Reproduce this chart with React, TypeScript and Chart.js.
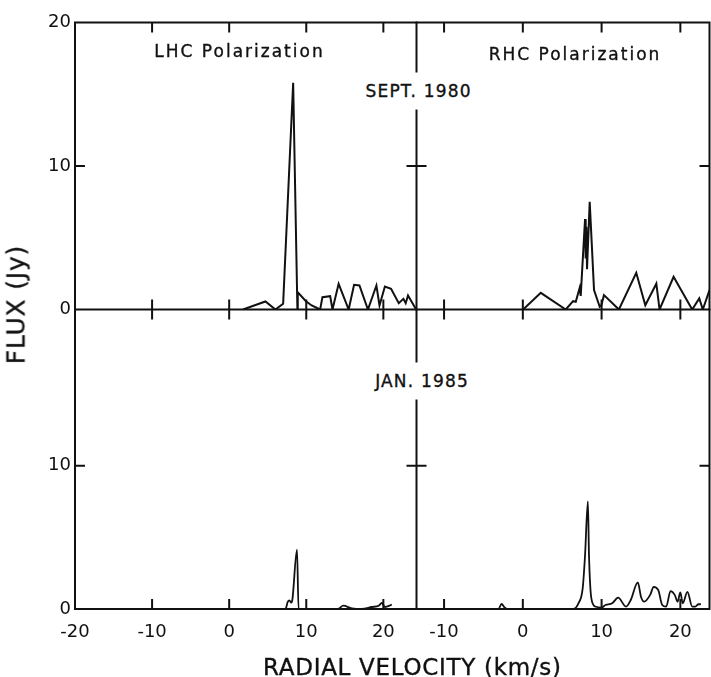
import React, { useEffect, useRef } from "react";
import { Chart, registerables } from "chart.js";

Chart.register(...registerables);

// ---------------- data ----------------
// Sept. 1980, LHC polarization
const sept1980LhcVelocity = [1.8, 4.7, 6.0, 7.0, 8.3, 8.85, 8.9, 9.96, 10.7, 11.8, 12.1, 13.1, 13.4, 14.2, 15.5, 16.2, 16.9, 18.0, 19.1, 19.5, 20.2, 21.0, 22.0, 22.6, 22.9, 23.2, 24.2];
const sept1980LhcFlux = [0, 0.56, 0, 0.4, 15.8, 0, 1.2, 0.58, 0.28, 0, 0.86, 0.93, 0, 1.79, 0, 1.72, 1.67, 0, 1.67, 0.28, 1.6, 1.44, 0.44, 0.74, 0.44, 0.98, 0.05];

// Sept. 1980, RHC polarization
const sept1980RhcVelocity = [0.04, 2.28, 5.45, 6.38, 6.72, 7.22, 7.35, 7.9, 7.98, 8.07, 8.15, 8.49, 9.04, 9.76, 9.97, 10.3, 12.2, 14.4, 15.55, 16.95, 17.36, 19.14, 21.5, 22.4, 22.85, 23.7];
const sept1980RhcFlux = [0, 1.16, 0, 0.58, 0.54, 1.51, 0.95, 6.3, 3.55, 5.76, 2.8, 7.5, 1.35, 0.19, 0.3, 1.0, 0, 2.56, 0.3, 1.8, 0, 2.28, 0, 0.77, 0, 1.35];

// Jan. 1985, LHC polarization
const jan1985LhcVelocity = [-20, 7.3, 7.6, 7.8, 8.06, 8.2, 8.8, 9.0, 14.1, 14.8, 15.9, 17.2, 18.5, 19.4, 19.8, 20.2, 21.1];
const jan1985LhcFlux = [0, 0, 0.5, 0.6, 0.44, 0.65, 4.15, 0, 0, 0.23, 0.05, 0.0, 0.14, 0.23, 0.42, 0.14, 0.3];

// Jan. 1985, RHC polarization
const jan1985RhcVelocity = [-13.5, -3.1, -2.7, -2.3, -2.0, 6.4, 7.06, 7.6, 7.9, 8.26, 8.4, 8.7, 9.2, 9.97, 10.5, 11.35, 12.1, 13.1, 13.7, 14.6, 15.0, 15.4, 16.2, 16.6, 17.2, 17.7, 18.2, 18.75, 19.3, 19.65, 20.0, 20.3, 20.9, 21.5, 21.9, 22.3, 22.6];
const jan1985RhcFlux = [0, 0, 0.35, 0.1, 0, 0, 0.4, 1.44, 3.75, 7.5, 3.75, 0.74, 0.17, 0.1, 0.28, 0.4, 0.79, 0.17, 0.63, 1.86, 0.86, 0.51, 1.02, 1.55, 1.32, 0.28, 0.17, 1.25, 0.97, 0.51, 1.16, 0.4, 1.2, 0.17, 0.17, 0.33, 0.33];

// tick values
const leftXTickLabels = [-20, -10, 0, 10, 20];
const rightXTickLabels = [-10, 0, 10, 20];
const topYTickLabels = [0, 10, 20];
const bottomYTickLabels = [0, 10];
const frameXTicks = [-10, 0, 10, 20];
const frameYTicks = [10];

// axis ranges
const leftVelocityRange = [-20, 24.3];
const rightVelocityRange = [-13.5, 23.7];
const topFluxMax = 20;
const bottomFluxMax = 20.9;

// ---------------- layout ----------------
const W = 711;
const H = 677;
const INK = "#111";
const X_AXIS_H = 45;
const TICK_FONT = { family: "DejaVu Sans", size: 18 };

const LEFT_X = 75;
const DIV_X = 416.5;
const RIGHT_X = 709.5;
const TOP_Y = 22.5;
const MID_Y = 309.5;
const BOT_Y = 609;

type Area = { l: number; t: number; r: number; b: number };

type FrameOpts = {
  sides: string[];
  top?: number[];
  bottom?: number[];
  bottomMode?: "cross" | "in";
  left?: number[];
  right?: number[];
  rightMode?: "cross" | "in";
};

const panelFrame = {
  id: "panelFrame",
  afterDatasetsDraw(chart: any, _args: any, opts: FrameOpts) {
    const { ctx, chartArea: a, scales } = chart;
    const xs = scales.x;
    const ys = scales.y;
    const T = 10;
    ctx.save();
    ctx.strokeStyle = INK;
    ctx.lineWidth = 2;
    ctx.lineCap = "butt";
    ctx.beginPath();
    const seg = (x1: number, y1: number, x2: number, y2: number) => {
      ctx.moveTo(x1, y1);
      ctx.lineTo(x2, y2);
    };
    const s = opts.sides || [];
    if (s.includes("left")) seg(a.left, a.top - 1, a.left, a.bottom + 1);
    if (s.includes("right")) seg(a.right, a.top - 1, a.right, a.bottom + 1);
    if (s.includes("top")) seg(a.left - 1, a.top, a.right + 1, a.top);
    if (s.includes("bottom")) seg(a.left - 1, a.bottom, a.right + 1, a.bottom);
    (opts.top || []).forEach((v) => {
      const px = xs.getPixelForValue(v);
      seg(px, a.top, px, a.top + T);
    });
    (opts.bottom || []).forEach((v) => {
      const px = xs.getPixelForValue(v);
      if (opts.bottomMode === "cross") seg(px, a.bottom - T, px, a.bottom + T);
      else seg(px, a.bottom, px, a.bottom - T);
    });
    (opts.left || []).forEach((v) => {
      const py = ys.getPixelForValue(v);
      seg(a.left, py, a.left + T, py);
    });
    (opts.right || []).forEach((v) => {
      const py = ys.getPixelForValue(v);
      if (opts.rightMode === "cross") seg(a.right - T, py, a.right + T, py);
      else seg(a.right, py, a.right - T, py);
    });
    ctx.stroke();
    ctx.restore();
  },
};

type PanelCfg = {
  vel: number[];
  flux: number[];
  xRange: number[];
  yMax: number;
  area: Area;
  showX: boolean;
  showY: boolean;
  xTicks: number[];
  yTicks: number[];
  smooth: boolean;
  lineWidth: number;
  frame: FrameOpts;
};

function Panel({ cfg }: { cfg: PanelCfg }) {
  const ref = useRef<HTMLCanvasElement | null>(null);
  useEffect(() => {
    if (!ref.current) return;
    const a = cfg.area;
    const chart = new Chart(ref.current, {
      type: "line",
      data: {
        datasets: [
          {
            data: cfg.vel.map((v, i) => ({ x: v, y: cfg.flux[i] })),
            borderColor: INK,
            borderWidth: cfg.lineWidth,
            pointRadius: 0,
            fill: false,
            tension: cfg.smooth ? 0.4 : 0,
            cubicInterpolationMode: cfg.smooth ? "monotone" : "default",
            borderJoinStyle: "miter",
          } as any,
        ],
      },
      options: {
        responsive: false,
        animation: false,
        devicePixelRatio: 1,
        events: [],
        layout: {
          padding: {
            left: cfg.showY ? 0 : a.l,
            top: a.t,
            right: W - a.r,
            bottom: cfg.showX ? H - a.b - X_AXIS_H : H - a.b,
          },
        },
        plugins: {
          legend: { display: false },
          tooltip: { enabled: false },
          title: { display: false },
          panelFrame: cfg.frame,
        } as any,
        scales: {
          x: {
            type: "linear",
            min: cfg.xRange[0],
            max: cfg.xRange[1],
            display: cfg.showX,
            grid: { display: false, drawTicks: false },
            border: { display: false },
            ticks: {
              font: TICK_FONT,
              color: INK,
              padding: 13,
              maxRotation: 0,
              autoSkip: false,
            },
            afterBuildTicks: (s: any) => {
              s.ticks = cfg.xTicks.map((value) => ({ value }));
            },
            afterFit: (s: any) => {
              s.height = cfg.showX ? X_AXIS_H : 0;
            },
          },
          y: {
            type: "linear",
            min: 0,
            max: cfg.yMax,
            display: cfg.showY,
            grid: { display: false, drawTicks: false },
            border: { display: false },
            ticks: { font: TICK_FONT, color: INK, padding: 4 },
            afterBuildTicks: (s: any) => {
              s.ticks = cfg.yTicks.map((value) => ({ value }));
            },
            afterFit: (s: any) => {
              s.width = cfg.showY ? a.l : 0;
            },
          },
        },
      } as any,
      plugins: [panelFrame],
    });
    return () => chart.destroy();
  }, []);
  return (
    <canvas
      ref={ref}
      width={W}
      height={H}
      style={{ position: "absolute", left: 0, top: 0, width: W, height: H }}
    />
  );
}

const panels: PanelCfg[] = [
  {
    vel: sept1980LhcVelocity,
    flux: sept1980LhcFlux,
    xRange: leftVelocityRange,
    yMax: topFluxMax,
    area: { l: LEFT_X, t: TOP_Y, r: DIV_X, b: MID_Y },
    showX: false,
    showY: true,
    xTicks: leftXTickLabels,
    yTicks: topYTickLabels,
    smooth: false,
    lineWidth: 2,
    frame: {
      sides: ["left", "top", "bottom", "right"],
      top: frameXTicks,
      bottom: frameXTicks,
      bottomMode: "cross",
      left: frameYTicks,
      right: frameYTicks,
      rightMode: "cross",
    },
  },
  {
    vel: sept1980RhcVelocity,
    flux: sept1980RhcFlux,
    xRange: rightVelocityRange,
    yMax: topFluxMax,
    area: { l: DIV_X, t: TOP_Y, r: RIGHT_X, b: MID_Y },
    showX: false,
    showY: false,
    xTicks: rightXTickLabels,
    yTicks: topYTickLabels,
    smooth: false,
    lineWidth: 2,
    frame: {
      sides: ["top", "bottom", "right"],
      top: frameXTicks,
      bottom: frameXTicks,
      bottomMode: "cross",
      right: frameYTicks,
      rightMode: "in",
    },
  },
  {
    vel: jan1985LhcVelocity,
    flux: jan1985LhcFlux,
    xRange: leftVelocityRange,
    yMax: bottomFluxMax,
    area: { l: LEFT_X, t: MID_Y, r: DIV_X, b: BOT_Y },
    showX: true,
    showY: true,
    xTicks: leftXTickLabels,
    yTicks: bottomYTickLabels,
    smooth: true,
    lineWidth: 1.8,
    frame: {
      sides: ["left", "bottom", "right"],
      bottom: frameXTicks,
      bottomMode: "in",
      left: frameYTicks,
      right: frameYTicks,
      rightMode: "cross",
    },
  },
  {
    vel: jan1985RhcVelocity,
    flux: jan1985RhcFlux,
    xRange: rightVelocityRange,
    yMax: bottomFluxMax,
    area: { l: DIV_X, t: MID_Y, r: RIGHT_X, b: BOT_Y },
    showX: true,
    showY: false,
    xTicks: rightXTickLabels,
    yTicks: bottomYTickLabels,
    smooth: true,
    lineWidth: 1.8,
    frame: {
      sides: ["bottom", "right"],
      bottom: frameXTicks,
      bottomMode: "in",
      right: frameYTicks,
      rightMode: "in",
    },
  },
];

type LabelProps = {
  text: string;
  cx: number;
  cy: number;
  size: number;
  spacing?: number;
  rotate?: boolean;
  white?: boolean;
  padY?: number;
};

function Label({ text, cx, cy, size, spacing = 0, rotate = false, white = false, padY = 0 }: LabelProps) {
  return (
    <div
      style={{
        position: "absolute",
        left: cx,
        top: cy,
        transform: `translate(-50%, -50%)${rotate ? " rotate(-90deg)" : ""}`,
        fontFamily: '"DejaVu Sans", sans-serif',
        fontSize: size,
        letterSpacing: spacing,
        lineHeight: 1,
        whiteSpace: "nowrap",
        color: INK,
        WebkitTextStroke: `0.35px ${INK}`,
        background: white ? "#fff" : "transparent",
        padding: `${padY}px ${white ? 3 : 0}px ${padY}px ${white ? 3 + spacing : spacing}px`,
      }}
    >
      {text}
    </div>
  );
}

export default function App() {
  return (
    <div
      style={{
        position: "absolute",
        left: 0,
        top: 0,
        width: W,
        height: H,
        background: "#fff",
        overflow: "hidden",
      }}
    >
      {panels.map((p, i) => (
        <Panel key={i} cfg={p} />
      ))}
      <Label text="LHC Polarization" cx={238.5} cy={51} size={17} spacing={2} />
      <Label text="RHC Polarization" cx={574} cy={54} size={17} spacing={2} />
      <Label text="SEPT. 1980" cx={418} cy={91} size={17} spacing={1.2} white padY={10} />
      <Label text="JAN. 1985" cx={421.5} cy={381} size={17} spacing={1.2} white padY={10} />
      <Label text="FLUX (Jy)" cx={16} cy={305} size={25} spacing={0.8} rotate />
      <Label text="RADIAL VELOCITY (km/s)" cx={412} cy={667} size={23} spacing={0.7} />
    </div>
  );
}
